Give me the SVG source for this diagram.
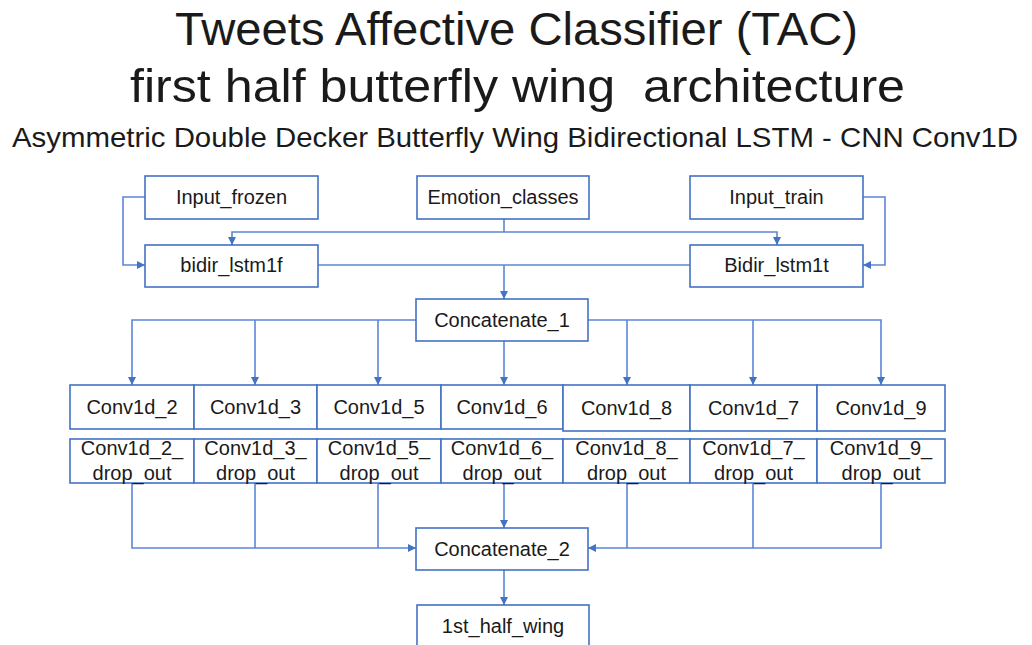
<svg xmlns="http://www.w3.org/2000/svg" width="1032" height="645" viewBox="0 0 1032 645">
<style>
.t{font-family:"Liberation Sans",Arial,sans-serif;fill:#1a1a1a}
.title{font-size:47px}
.sub{font-size:28px}
.box{fill:#ffffff;stroke:#4472C4;stroke-width:1.6}
.lbl{font-family:"Liberation Sans",Arial,sans-serif;font-size:20px;fill:#1a1a1a;text-anchor:middle}
.c{fill:none;stroke:#5B86D6;stroke-width:1.6}
</style>
<defs>
<marker id="ah" markerUnits="userSpaceOnUse" markerWidth="10" markerHeight="10" refX="8" refY="4" orient="auto">
<path d="M0,0 L8,4 L0,8 Z" fill="#4472C4"/>
</marker>
</defs>
<rect width="1032" height="645" fill="#ffffff"/>
<g id="titles">
<text class="t title" x="175" y="45" textLength="683" lengthAdjust="spacingAndGlyphs">Tweets Affective Classifier (TAC)</text>
<text class="t title" x="130" y="102" textLength="775" lengthAdjust="spacingAndGlyphs" xml:space="preserve">first half butterfly wing  architecture</text>
<text class="t sub" x="12" y="147" textLength="1006" lengthAdjust="spacingAndGlyphs">Asymmetric Double Decker Butterfly Wing Bidirectional LSTM - CNN Conv1D</text>
</g>
<g id="connectors">
<path class="c" d="M145,197 H123 V265 H145" marker-end="url(#ah)"/>
<path class="c" d="M863,197 H885 V265 H863" marker-end="url(#ah)"/>
<path class="c" d="M504,219 V232"/>
<path class="c" d="M504,232 H232 V245" marker-end="url(#ah)"/>
<path class="c" d="M504,232 H777 V245" marker-end="url(#ah)"/>
<path class="c" d="M318,265 H690"/>
<path class="c" d="M504,265 V299" marker-end="url(#ah)"/>
<path class="c" d="M416,320 H132 V385" marker-end="url(#ah)"/>
<path class="c" d="M255,320 V385" marker-end="url(#ah)"/>
<path class="c" d="M378,320 V385" marker-end="url(#ah)"/>
<path class="c" d="M504,341 V385" marker-end="url(#ah)"/>
<path class="c" d="M588,320 H881 V385" marker-end="url(#ah)"/>
<path class="c" d="M627,320 V385" marker-end="url(#ah)"/>
<path class="c" d="M753,320 V385" marker-end="url(#ah)"/>
<path class="c" d="M132,483 V548 H416" marker-end="url(#ah)"/>
<path class="c" d="M255,483 V548"/>
<path class="c" d="M378,483 V548"/>
<path class="c" d="M881,483 V548 H588" marker-end="url(#ah)"/>
<path class="c" d="M627,483 V548"/>
<path class="c" d="M753,483 V548"/>
<path class="c" d="M504,483 V528" marker-end="url(#ah)"/>
<path class="c" d="M504,570 V605" marker-end="url(#ah)"/>
</g>
<g id="input_frozen"><rect class="box" x="145" y="176" width="173" height="43"/><text class="lbl" x="231.5" y="204">Input_frozen</text></g>
<g id="emotion_classes"><rect class="box" x="417" y="176" width="172" height="43"/><text class="lbl" x="503" y="204">Emotion_classes</text></g>
<g id="input_train"><rect class="box" x="690" y="176" width="173" height="43"/><text class="lbl" x="776.5" y="204">Input_train</text></g>
<g id="bidir_lstm1f"><rect class="box" x="145" y="245" width="173" height="42"/><text class="lbl" x="231.5" y="272">bidir_lstm1f</text></g>
<g id="bidir_lstm1t"><rect class="box" x="690" y="245" width="173" height="42"/><text class="lbl" x="776.5" y="272">Bidir_lstm1t</text></g>
<g id="concatenate_1"><rect class="box" x="416" y="299" width="172" height="42"/><text class="lbl" x="502" y="327">Concatenate_1</text></g>
<g id="conv1d_2"><rect class="box" x="70" y="385" width="124" height="44"/><text class="lbl" x="132" y="414">Conv1d_2</text></g>
<g id="conv1d_3"><rect class="box" x="194" y="385" width="123" height="44"/><text class="lbl" x="255.5" y="414">Conv1d_3</text></g>
<g id="conv1d_5"><rect class="box" x="317" y="385" width="124" height="44"/><text class="lbl" x="379" y="414">Conv1d_5</text></g>
<g id="conv1d_6"><rect class="box" x="441" y="385" width="122" height="44"/><text class="lbl" x="502" y="414">Conv1d_6</text></g>
<g id="conv1d_8"><rect class="box" x="563" y="385" width="127" height="46"/><text class="lbl" x="626.5" y="415">Conv1d_8</text></g>
<g id="conv1d_7"><rect class="box" x="690" y="385" width="127" height="46"/><text class="lbl" x="753.5" y="415">Conv1d_7</text></g>
<g id="conv1d_9"><rect class="box" x="817" y="385" width="128" height="46"/><text class="lbl" x="881" y="415">Conv1d_9</text></g>
<g id="conv1d_2_drop_out"><rect class="box" x="70" y="439" width="124" height="44"/><text class="lbl" x="132" y="455">Conv1d_2_</text><text class="lbl" x="132" y="480">drop_out</text></g>
<g id="conv1d_3_drop_out"><rect class="box" x="194" y="439" width="123" height="44"/><text class="lbl" x="255.5" y="455">Conv1d_3_</text><text class="lbl" x="255.5" y="480">drop_out</text></g>
<g id="conv1d_5_drop_out"><rect class="box" x="317" y="439" width="124" height="44"/><text class="lbl" x="379" y="455">Conv1d_5_</text><text class="lbl" x="379" y="480">drop_out</text></g>
<g id="conv1d_6_drop_out"><rect class="box" x="441" y="439" width="122" height="44"/><text class="lbl" x="502" y="455">Conv1d_6_</text><text class="lbl" x="502" y="480">drop_out</text></g>
<g id="conv1d_8_drop_out"><rect class="box" x="563" y="439" width="127" height="44"/><text class="lbl" x="626.5" y="455">Conv1d_8_</text><text class="lbl" x="626.5" y="480">drop_out</text></g>
<g id="conv1d_7_drop_out"><rect class="box" x="690" y="439" width="127" height="44"/><text class="lbl" x="753.5" y="455">Conv1d_7_</text><text class="lbl" x="753.5" y="480">drop_out</text></g>
<g id="conv1d_9_drop_out"><rect class="box" x="817" y="439" width="128" height="44"/><text class="lbl" x="881" y="455">Conv1d_9_</text><text class="lbl" x="881" y="480">drop_out</text></g>
<g id="concatenate_2"><rect class="box" x="416" y="528" width="172" height="42"/><text class="lbl" x="502" y="556">Concatenate_2</text></g>
<g id="first_half_wing"><rect class="box" x="417" y="605" width="172" height="42"/><text class="lbl" x="503" y="633">1st_half_wing</text></g>
</svg>
